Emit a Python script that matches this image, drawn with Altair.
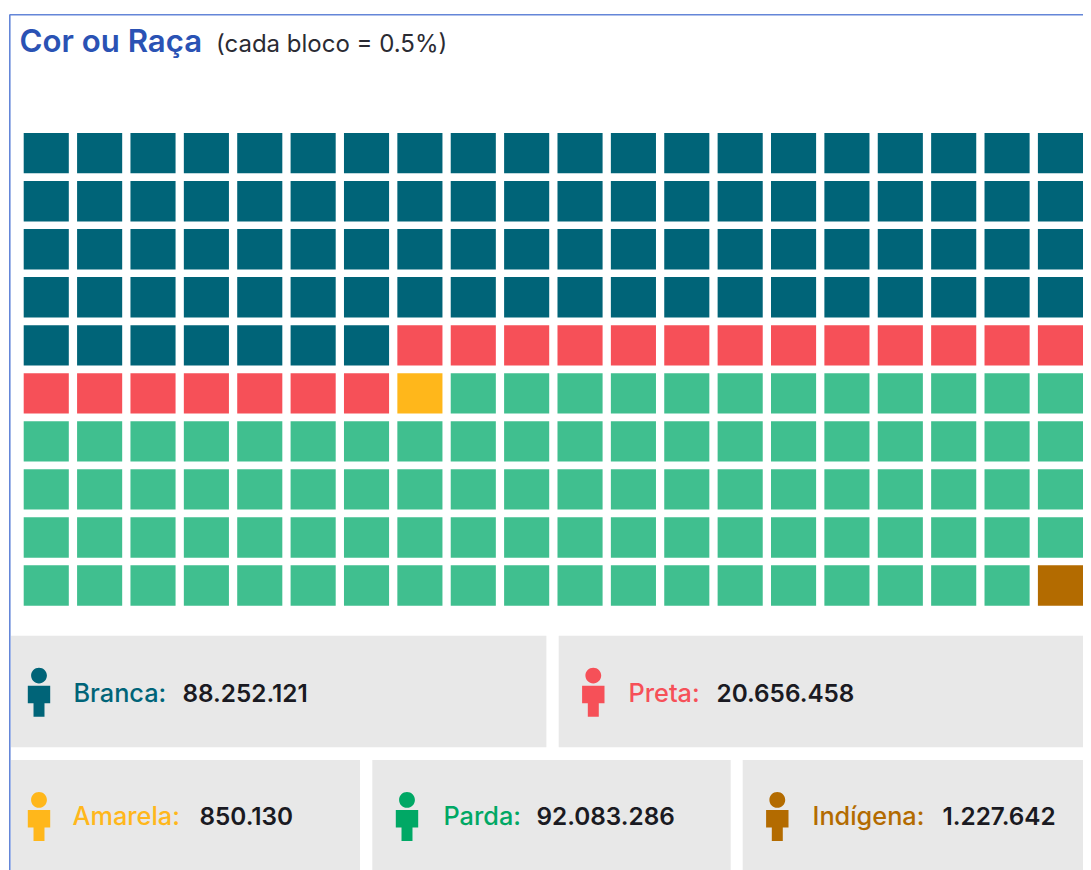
import altair as alt
import pandas as pd

# ---- values ----
categories = ["Branca", "Preta", "Amarela", "Parda", "Indígena"]
populations = ["88.252.121", "20.656.458", "850.130", "92.083.286", "1.227.642"]
blocks = [87, 20, 1, 91, 1]
block_colors = ["#006478", "#f65058", "#ffb71b", "#40bf8f", "#b36b00"]
icon_colors = ["#006478", "#f65058", "#ffb71b", "#00a865", "#b36b00"]
label_colors = ["#1a7086", "#f65058", "#ffb71b", "#2bae78", "#bd7a20"]
n_cols = 20
n_rows = 10

W, H = 1075, 862
FONT = "Inter"

# ---- waffle cells ----
cells = []
i = 0
for cat, n in zip(categories, blocks):
    for _ in range(n):
        cells.append({"cat": cat, "col": i % n_cols, "row": i // n_cols})
        i += 1
cells = pd.DataFrame(cells)

waffle = alt.Chart(cells).mark_rect().encode(
    x=alt.X("col:O", axis=None, scale=alt.Scale(range=[15.7, 1075], paddingInner=0.155, paddingOuter=0)),
    y=alt.Y("row:O", axis=None, scale=alt.Scale(range=[125, 597.7], paddingInner=0.16, paddingOuter=0)),
    color=alt.Color("cat:N", legend=None, scale=alt.Scale(domain=categories, range=block_colors)),
)

# ---- page layout, in chart pixels ----
px = alt.Scale(domain=[0, W], range=[0, W])
py = alt.Scale(domain=[0, H], range=[0, H])

layout = pd.DataFrame({
    "cat": categories,
    "x0": [3, 550.7, 3, 364.3, 734.7],
    "x1": [538.4, W, 352, 722.7, W],
    "y0": [627.7, 627.7, 752, 752, 752],
    "y1": [739.3, 739.3, 862, 862, 862],
    "icon_x": [31, 585.3, 31, 399, 769.3],
    "icon_y": [684.2, 684.2, 808.5, 808.5, 808.5],
    "label_x": [65.5, 620.5, 64.5, 435.5, 804.5],
    "value_x": [174.5, 708.5, 191.5, 528.5, 934.5],
    "base_y": [693.5, 693.5, 817, 817, 817],
})
layout["label"] = layout["cat"] + ":"
layout["value"] = populations

cards = alt.Chart(layout).mark_rect(color="#e8e8e8").encode(
    x=alt.X("x0:Q", axis=None, scale=px), x2="x1:Q",
    y=alt.Y("y0:Q", axis=None, scale=py), y2="y1:Q",
)

PERSON = ("M0,-1 A0.323,0.323 0 1 1 0,-0.354 A0.323,0.323 0 1 1 0,-1 Z "
          "M-0.457,-0.265 H0.457 V0.453 H0.224 V1 H-0.224 V0.453 H-0.457 Z")
icons = alt.Chart(layout).mark_point(shape=PERSON, size=2401, filled=True, opacity=1, strokeWidth=0).encode(
    x=alt.X("icon_x:Q", axis=None, scale=px),
    y=alt.Y("icon_y:Q", axis=None, scale=py),
    color=alt.Color("cat:N", legend=None, scale=alt.Scale(domain=categories, range=icon_colors)),
)

labels = alt.Chart(layout).mark_text(
    font=FONT, fontSize=25.3, fontWeight=500, align="left", baseline="alphabetic"
).encode(
    x=alt.X("label_x:Q", axis=None, scale=px),
    y=alt.Y("base_y:Q", axis=None, scale=py),
    text="label:N",
    color=alt.Color("cat:N", legend=None, scale=alt.Scale(domain=categories, range=label_colors)),
)
values = alt.Chart(layout).mark_text(
    font=FONT, fontSize=24.3, fontWeight=600, align="left", baseline="alphabetic", color="#1a1a22"
).encode(
    x=alt.X("value_x:Q", axis=None, scale=px),
    y=alt.Y("base_y:Q", axis=None, scale=py),
    text="value:N",
)

# ---- frame and heading ----
frame_top = alt.Chart(pd.DataFrame({"x": [1.5], "x2": [W], "y": [6.8]})).mark_rule(color="#6486d8", strokeWidth=1.6).encode(
    x=alt.X("x:Q", axis=None, scale=px), x2="x2:Q", y=alt.Y("y:Q", axis=None, scale=py))
frame_left = alt.Chart(pd.DataFrame({"x": [1.8], "y": [6.8], "y2": [H]})).mark_rule(color="#6486d8", strokeWidth=1.6).encode(
    x=alt.X("x:Q", axis=None, scale=px), y=alt.Y("y:Q", axis=None, scale=py), y2="y2:Q")

heading = pd.DataFrame({
    "x": [11.5, 208], "y": [43.5, 43.5],
    "t": ["Cor ou Raça", "(cada bloco = 0.5%)"],
})
head_title = alt.Chart(heading.iloc[[0]]).mark_text(
    font=FONT, fontSize=31.2, fontWeight=600, align="left", baseline="alphabetic", color="#2a52b4"
).encode(x=alt.X("x:Q", axis=None, scale=px), y=alt.Y("y:Q", axis=None, scale=py), text="t:N")
head_sub = alt.Chart(heading.iloc[[1]]).mark_text(
    font=FONT, fontSize=24, fontWeight=400, align="left", baseline="alphabetic", color="#2b2b33"
).encode(x=alt.X("x:Q", axis=None, scale=px), y=alt.Y("y:Q", axis=None, scale=py), text="t:N")

pixels = alt.layer(cards, icons, labels, values, frame_top, frame_left, head_title, head_sub)

chart = alt.layer(waffle, pixels).resolve_scale(x="independent", y="independent", color="independent").properties(
    width=W, height=H, padding=0, autosize=alt.AutoSizeParams(type="none"), background="#ffffff"
).configure_view(stroke=None)

chart.save("out.html", embed_options={"renderer": "svg", "actions": False})
